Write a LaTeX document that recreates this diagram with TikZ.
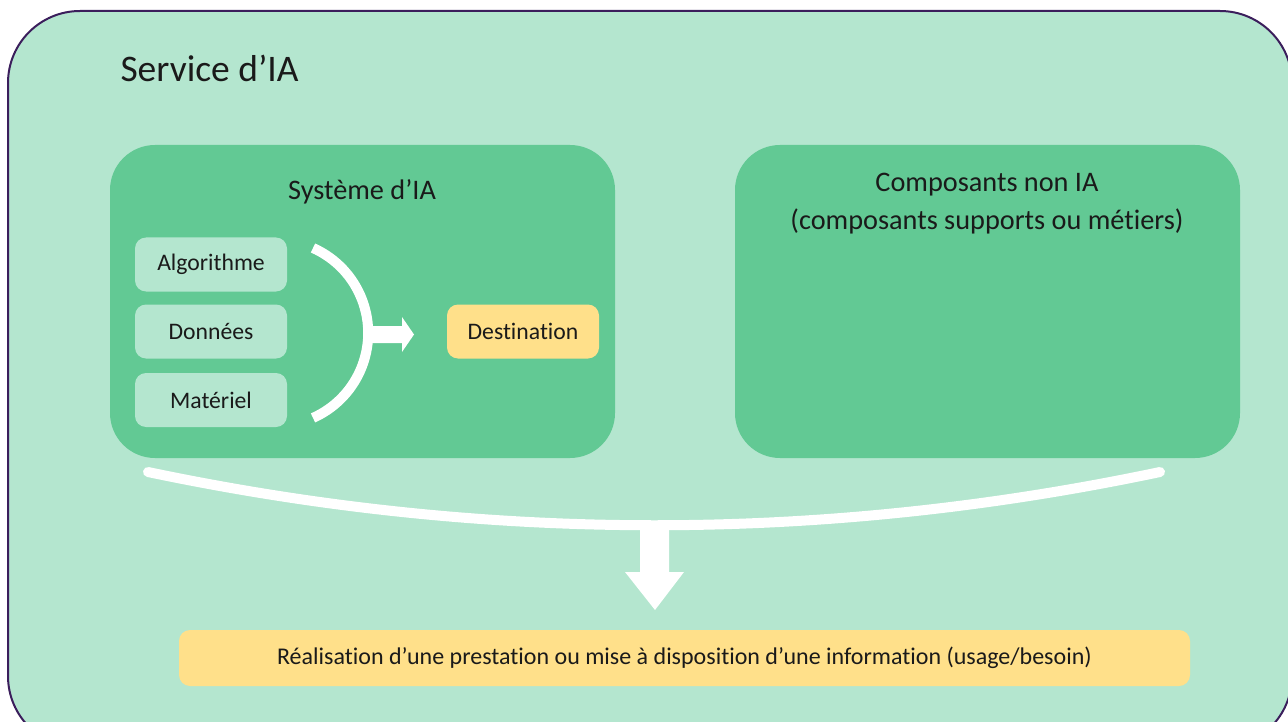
\documentclass[tikz,border=0pt]{standalone}
\usepackage{fontspec}
\setmainfont[Ligatures=NoCommon]{Carlito}
\definecolor{mint}{HTML}{B4E6CF}
\definecolor{leaf}{HTML}{62C994}
\definecolor{sand}{HTML}{FFE08A}
\definecolor{plum}{HTML}{3B1E5C}
\definecolor{ink}{HTML}{1A1A1A}
\begin{document}
\begin{tikzpicture}[x=1pt,y=-1pt,
  panel/.style={fill=leaf, draw=none, rounded corners=45pt, minimum width=505pt, minimum height=313pt},
  paneltext/.style={text=ink, font=\fontsize{28.3}{38}\selectfont, align=center},
  chip/.style={fill=mint, draw=none, rounded corners=11pt, minimum width=152pt, minimum height=54pt, text=ink, font=\fontsize{23.7}{27}\selectfont},
  goal/.style={fill=sand, draw=none, rounded corners=11pt, text=ink},
  flow/.style={white, line width=10pt},
  arrowshape/.style={fill=white, draw=none}
]
\useasboundingbox (0,0) rectangle (1288,722);
% outer frame
\draw[fill=mint, draw=plum, line width=2pt, rounded corners=72pt] (8,11) rectangle (1292,748);
\node[anchor=west, text=ink, font=\fontsize{37.5}{45}\selectfont] (title) at (117,68) {Service d’IA};

% panels
\node[panel] (sys) at (362.5,301.5) {};
\node[panel] (non) at (987.5,301.5) {};
\node[paneltext] (systitle) at (362,192) {Système d’IA};
\node[paneltext] (nontitle) at (987,204) {Composants non IA\\(composants supports ou métiers)};

% components
\node[chip] (algo) at (211,264.5) {Algorithme};
\node[chip] (data) at (211,331.5) {Données};
\node[chip] (hard) at (211,400) {Matériel};
\node[chip, fill=sand] (dest) at (523,331.5) {Destination};

% bracket arc and arrow
\coordinate (arcA) at (313,248);
\draw[flow, line cap=butt] (arcA) arc[start angle=66, end angle=-66, radius=93pt];
\fill[arrowshape] (364,326) -- (402,326) -- (402,317) -- (414,334.5) -- (402,352) -- (402,343) -- (364,343) -- cycle;

% big bracket
\coordinate (brL) at (148,472);
\coordinate (brR) at (1160,472);
\draw[flow, line cap=round] (brL) .. controls (486,543) and (823,543) .. (brR);
\fill[arrowshape] (640,522) -- (669,522) -- (669,572) -- (684,572) -- (655,610) -- (625,572) -- (640,572) -- cycle;

% outcome
\node[goal, minimum width=1011pt, minimum height=56pt, font=\fontsize{24}{28}\selectfont] (out) at (684.5,658) {Réalisation d’une prestation ou mise à disposition d’une information (usage/besoin)};
\end{tikzpicture}
\end{document}
